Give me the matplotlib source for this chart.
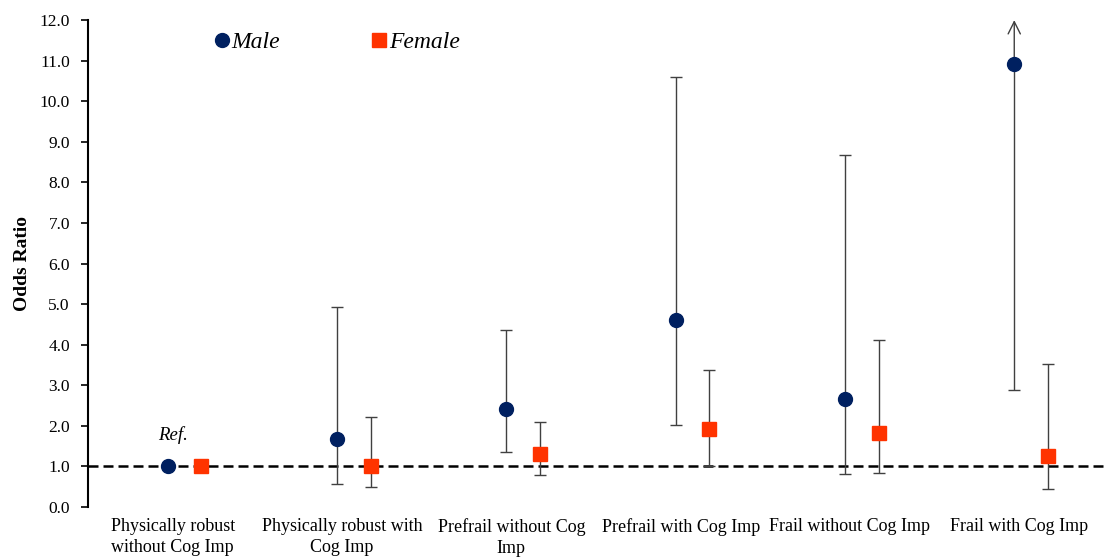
import matplotlib
matplotlib.use("Agg")
import matplotlib.pyplot as plt
from matplotlib.lines import Line2D
import numpy as np

plt.rcParams['font.family'] = ['Liberation Serif', 'DejaVu Serif']

# data
categorias = ["Physically robust\nwithout Cog Imp", "Physically robust with\nCog Imp",
              "Prefrail without Cog\nImp", "Prefrail with Cog Imp",
              "Frail without Cog Imp", "Frail with Cog Imp"]
male_or = [1.0, 1.68, 2.42, 4.60, 2.66, 10.91]
male_lo = [np.nan, 0.57, 1.35, 2.01, 0.81, 2.88]
male_hi = [np.nan, 4.93, 4.36, 10.60, 8.67, np.nan]  # ultimo: sale del grafico
female_or = [1.0, 1.02, 1.30, 1.92, 1.82, 1.26]
female_lo = [np.nan, 0.49, 0.79, 1.00, 0.83, 0.44]
female_hi = [np.nan, 2.22, 2.10, 3.37, 4.11, 3.52]

azul = '#002060'
rojo = '#FF3300'
gris = '#404040'

fig = plt.figure(figsize=(11.04, 5.59), dpi=100)
ax = fig.add_axes([0.0797, 0.093, 0.9203, 0.871])

x = np.arange(len(categorias))
xm = x - 0.03
xf = x + 0.17

male_or = np.array(male_or)
female_or = np.array(female_or)

# barras de error (sin la referencia)
for i in range(1, len(x)):
    if not np.isnan(male_hi[i]):
        ax.errorbar(xm[i], male_or[i],
                    yerr=[[male_or[i] - male_lo[i]], [male_hi[i] - male_or[i]]],
                    fmt='none', ecolor=gris, elinewidth=1, capsize=4, capthick=1, zorder=2)
    ax.errorbar(xf[i], female_or[i],
                yerr=[[female_or[i] - female_lo[i]], [female_hi[i] - female_or[i]]],
                fmt='none', ecolor=gris, elinewidth=1, capsize=4, capthick=1, zorder=2)

# intervalo truncado con flecha
ax.errorbar(xm[5], male_or[5], yerr=[[male_or[5] - male_lo[5]], [0]],
            fmt='none', ecolor=gris, elinewidth=1, capsize=4, capthick=1, zorder=2)
ax.annotate('', xy=(xm[5], 12.0), xytext=(xm[5], male_or[5]),
            arrowprops=dict(arrowstyle='->', color=gris, lw=1,
                            mutation_scale=22, shrinkA=0, shrinkB=0),
            annotation_clip=False, zorder=2)

ax.axhline(1.0, color='black', linestyle=(0, (4, 2)), linewidth=1.8, zorder=1)

ax.plot(xm, male_or, 'o', color=azul, markersize=10, zorder=3, linestyle='none')
ax.plot(xf, female_or, 's', color=rojo, markersize=10, zorder=3, linestyle='none')

ax.text(x[0], 1.77, 'Ref.', fontsize=13.5, style='italic', ha='center', va='center')

ax.set_xlim(-0.5, len(x) - 0.5)
ax.set_ylim(0, 12)
ax.set_yticks(np.arange(0, 12.1, 1.0))
ax.set_yticklabels([f'{v:.1f}' for v in np.arange(0, 12.1, 1.0)], fontsize=12.5)
ax.set_xticks(x)
ax.set_xticklabels(categorias, fontsize=13, linespacing=1.3)
ax.tick_params(axis='x', length=0, pad=8)
ax.tick_params(axis='y', length=5, width=1.2, direction='out', pad=8)
ax.set_ylabel('Odds Ratio', fontsize=14, fontweight='bold', labelpad=6)

for lado in ['top', 'right', 'bottom']:
    ax.spines[lado].set_visible(False)
ax.spines['left'].set_linewidth(1.5)

handles = [Line2D([], [], marker='o', color=azul, linestyle='none', markersize=10),
           Line2D([], [], marker='s', color=rojo, linestyle='none', markersize=10)]
ax.legend(handles, ['Male', 'Female'], ncol=2, frameon=False,
          prop={'style': 'italic', 'size': 17}, loc='upper left',
          bbox_to_anchor=(0.097, 1.02), handletextpad=-0.2, columnspacing=3.6,
          handlelength=1.2)

fig.savefig('out.png', dpi=100)
